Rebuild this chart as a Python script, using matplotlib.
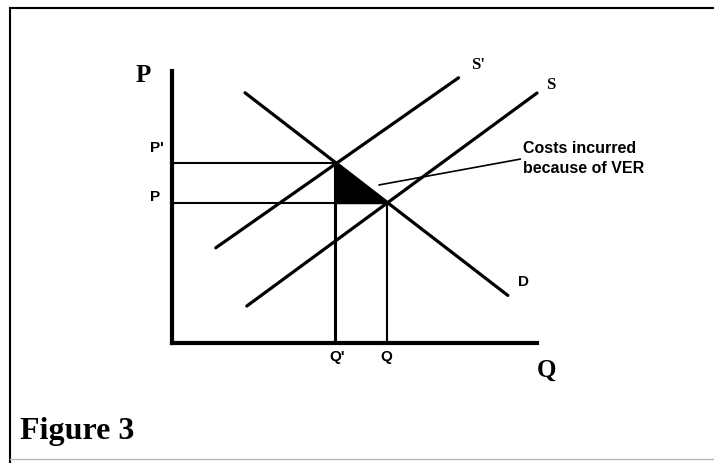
import matplotlib.pyplot as plt
from matplotlib.lines import Line2D

# supply / demand curves (Q, P end points)
demand_q = [2.0, 9.2]
demand_p = [9.2, 1.75]
supply_q = [2.05, 10.0]
supply_p = [1.36, 9.19]
supply_vef_q = [1.2, 7.85]
supply_vef_p = [3.5, 9.75]

# equilibrium points
q_ver, p_ver = 4.47, 6.62   # Q', P'
q_eq, p_eq = 5.89, 5.15     # Q, P

tick_labels_p = ["P'", "P"]
tick_labels_q = ["Q'", "Q"]

fig = plt.figure(figsize=(7.14, 4.63), dpi=100)
ax = fig.add_axes([172/714, 120/463, 365/714, 272/463])
ax.set_xlim(0, 10)
ax.set_ylim(0, 10)
for s in ['top', 'right']:
    ax.spines[s].set_visible(False)
for s in ['left', 'bottom']:
    ax.spines[s].set_linewidth(3)
ax.set_xticks([])
ax.set_yticks([])

# curves
ax.plot(demand_q, demand_p, color='black', lw=2.3, solid_capstyle='round', clip_on=False)
ax.plot(supply_q, supply_p, color='black', lw=2.3, solid_capstyle='round', clip_on=False)
ax.plot(supply_vef_q, supply_vef_p, color='black', lw=2.3, solid_capstyle='round', clip_on=False)

# guide lines
ax.plot([0, q_ver], [p_ver, p_ver], color='black', lw=1.5)
ax.plot([0, q_eq], [p_eq, p_eq], color='black', lw=1.5)
ax.plot([q_ver, q_ver], [0, p_ver], color='black', lw=2.2)
ax.plot([q_eq, q_eq], [0, p_eq], color='black', lw=1.5)

# deadweight triangle
ax.fill([q_ver, q_ver, q_eq], [p_ver, p_eq, p_eq], color='black')

# labels
small = dict(fontsize=11, fontweight='bold', family='Liberation Sans',
             ha='center', va='center', clip_on=False)
ax.text(-0.41, 7.17, tick_labels_p[0], **small)
ax.text(-0.47, 5.37, tick_labels_p[1], **small)
ax.text(q_ver + 0.05, -0.51, tick_labels_q[0], **small)
ax.text(q_eq - 0.03, -0.51, tick_labels_q[1], **small)
ax.text(8.38, 10.22, "S'", fontsize=12, fontweight='bold', family='Liberation Serif',
        ha='center', va='center')
ax.text(10.38, 9.49, "S", fontsize=12, fontweight='bold', family='Liberation Serif',
        ha='center', va='center')
ax.text(9.62, 2.24, "D", **small)

big = dict(fontsize=18, fontweight='bold', family='Liberation Serif',
           ha='center', va='center')
ax.text(-0.79, 9.85, "P", **big)
ax.text(10.27, -1.0, "Q", **big)

ax.annotate("Costs incurred\nbecause of VER", xy=(5.67, 5.81), xytext=(9.62, 6.78),
            fontsize=11.5, fontweight='bold', family='Liberation Sans',
            ha='left', va='center', linespacing=1.45,
            arrowprops=dict(arrowstyle='-', color='black', lw=1.2,
                            shrinkA=0, shrinkB=0, relpos=(0, 0.5)))

fig.text(20/714, 1 - 432/463, "Figure 3", fontsize=23, fontweight='bold',
         family='Liberation Serif', ha='left', va='center')

# frame around the figure
fig.add_artist(Line2D([10/714, 10/714], [0, 1 - 8/463], color='black', lw=1.5,
                      transform=fig.transFigure))
fig.add_artist(Line2D([10/714, 1], [1 - 8/463, 1 - 8/463], color='black', lw=1.5,
                      transform=fig.transFigure))
fig.add_artist(Line2D([10/714, 1], [1 - 459/463, 1 - 459/463], color='#bbbbbb', lw=1.0,
                      transform=fig.transFigure))

fig.savefig('out.png', dpi=100)
